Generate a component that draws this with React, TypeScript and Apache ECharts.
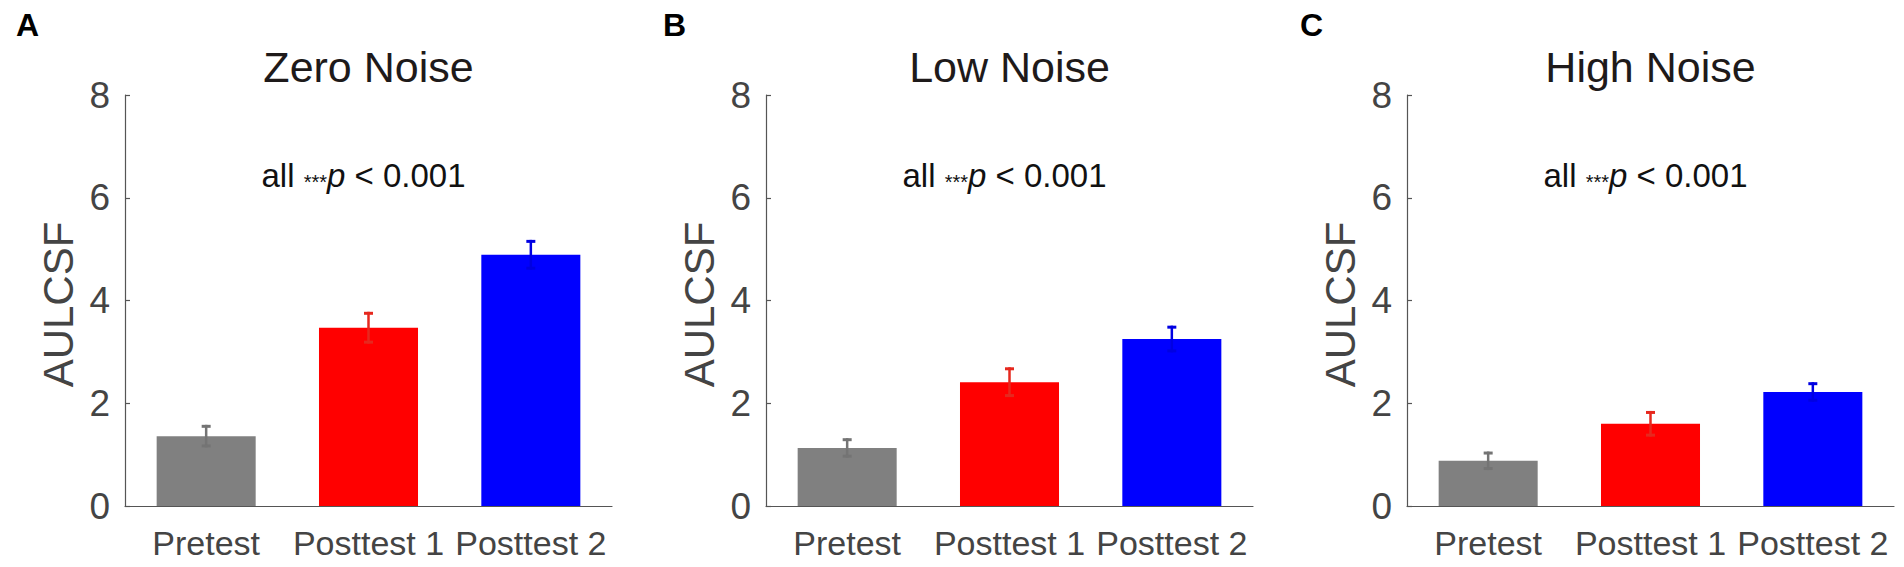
import React, { useEffect, useRef } from "react";
import * as echarts from "echarts";

const categories = ["Pretest", "Posttest 1", "Posttest 2"];
const panelTitles = ["Zero Noise", "Low Noise", "High Noise"];
const panelLetters = ["A", "B", "C"];

const zeroNoiseMean = [1.36, 3.47, 4.89];
const zeroNoiseSE = [0.22, 0.31, 0.29];
const lowNoiseMean = [1.13, 2.41, 3.25];
const lowNoiseSE = [0.19, 0.29, 0.26];
const highNoiseMean = [0.88, 1.6, 2.22];
const highNoiseSE = [0.18, 0.25, 0.19];

const yMin = 0;
const yMax = 8;
const yInterval = 2;

const barColors = ["#808080", "#ff0000", "#0000ff"];
const errColors = ["#747474", "#e6281e", "#0000e2"];

const FONT = '"Liberation Sans", Arial, Helvetica, sans-serif';

const panelMeans = [zeroNoiseMean, lowNoiseMean, highNoiseMean];
const panelSEs = [zeroNoiseSE, lowNoiseSE, highNoiseSE];

const gridLefts = [125, 766, 1407];
const letterLefts = [16, 663, 1300];
const gridTop = 95;
const gridWidth = 487;
const gridHeight = 411;

export default function App() {
  const ref = useRef<HTMLDivElement>(null);

  useEffect(() => {
    if (!ref.current) return;
    const chart = echarts.init(ref.current, null, { renderer: "svg" });

    const grids = gridLefts.map((left) => ({
      left,
      top: gridTop,
      width: gridWidth,
      height: gridHeight,
      containLabel: false,
    }));

    const xAxes = gridLefts.map((_, i) => ({
      type: "category",
      gridIndex: i,
      data: categories,
      axisLine: { show: true, lineStyle: { color: "#555555", width: 1.2 } },
      axisTick: { show: false },
      axisLabel: {
        color: "#444444",
        fontSize: 34,
        fontFamily: FONT,
        margin: 20,
        interval: 0,
        hideOverlap: false,
      },
      splitLine: { show: false },
    }));

    const yAxes = gridLefts.map((_, i) => ({
      type: "value",
      gridIndex: i,
      min: yMin,
      max: yMax,
      interval: yInterval,
      axisLine: { show: true, lineStyle: { color: "#555555", width: 1.2 } },
      axisTick: {
        show: true,
        inside: true,
        length: 5,
        lineStyle: { color: "#555555", width: 1.2 },
      },
      axisLabel: {
        color: "#444444",
        fontSize: 37,
        fontFamily: FONT,
        margin: 15,
      },
      splitLine: { show: false },
    }));

    const series: any[] = [];
    panelMeans.forEach((means, i) => {
      series.push({
        type: "bar",
        xAxisIndex: i,
        yAxisIndex: i,
        barWidth: "61%",
        data: means.map((v, k) => ({
          value: v,
          itemStyle: { color: barColors[k] },
        })),
        z: 2,
      });
      const ses = panelSEs[i];
      series.push({
        type: "custom",
        xAxisIndex: i,
        yAxisIndex: i,
        z: 5,
        encode: { x: 0, y: [1, 2] },
        data: means.map((v, k) => [k, v - ses[k], v + ses[k]]),
        renderItem: (params: any, api: any) => {
          const x = api.value(0);
          const lo = api.value(1);
          const hi = api.value(2);
          const pHi = api.coord([x, hi]);
          const pLo = api.coord([x, lo]);
          const color = errColors[params.dataIndex];
          const hw = 4.5;
          return {
            type: "group",
            children: [
              {
                type: "line",
                shape: { x1: pHi[0], y1: pHi[1], x2: pLo[0], y2: pLo[1] },
                style: { stroke: color, lineWidth: 2.5 },
              },
              {
                type: "line",
                shape: {
                  x1: pHi[0] - hw,
                  y1: pHi[1] + 1.5,
                  x2: pHi[0] + hw,
                  y2: pHi[1] + 1.5,
                },
                style: { stroke: color, lineWidth: 3 },
              },
              {
                type: "line",
                shape: {
                  x1: pLo[0] - hw,
                  y1: pLo[1] - 1.5,
                  x2: pLo[0] + hw,
                  y2: pLo[1] - 1.5,
                },
                style: { stroke: color, lineWidth: 3 },
              },
            ],
          };
        },
      });
    });

    const graphics: any[] = [];
    gridLefts.forEach((left, i) => {
      const cx = left + gridWidth / 2;
      graphics.push({
        type: "text",
        x: cx,
        y: 67,
        style: {
          text: panelTitles[i],
          fontSize: 43,
          fontFamily: FONT,
          fill: "#1e1a1a",
          align: "center",
          verticalAlign: "middle",
        },
      });
      graphics.push({
        type: "text",
        x: cx - 5,
        y: 175,
        style: {
          text: "{a|all }{s|***}{p|p}{a| < 0.001}",
          align: "center",
          verticalAlign: "middle",
          fill: "#111111",
          fontFamily: FONT,
          fontSize: 33,
          rich: {
            a: {
              fontSize: 33,
              lineHeight: 33,
              fontFamily: FONT,
              fill: "#111111",
              verticalAlign: "bottom",
            },
            s: {
              fontSize: 20,
              lineHeight: 20,
              fontFamily: FONT,
              fill: "#111111",
              verticalAlign: "bottom",
            },
            p: {
              fontSize: 33,
              lineHeight: 33,
              fontFamily: FONT,
              fontStyle: "italic",
              fill: "#111111",
              verticalAlign: "bottom",
            },
          },
        },
      });
      graphics.push({
        type: "text",
        x: letterLefts[i],
        y: 25,
        style: {
          text: panelLetters[i],
          fontSize: 32,
          fontWeight: "bold",
          fontFamily: FONT,
          fill: "#000000",
          align: "left",
          verticalAlign: "middle",
        },
      });
      graphics.push({
        type: "text",
        x: left - 67,
        y: gridTop + gridHeight / 2 + 4,
        rotation: Math.PI / 2,
        style: {
          text: "AULCSF",
          fontSize: 42,
          fontFamily: FONT,
          fill: "#444444",
          align: "center",
          verticalAlign: "middle",
        },
      });
    });

    chart.setOption({
      animation: false,
      backgroundColor: "#ffffff",
      grid: grids,
      xAxis: xAxes,
      yAxis: yAxes,
      series,
      graphic: graphics,
    });

    return () => {
      chart.dispose();
    };
  }, []);

  return (
    <div
      ref={ref}
      style={{
        position: "absolute",
        left: 0,
        top: 0,
        width: "1904px",
        height: "567px",
      }}
    />
  );
}
